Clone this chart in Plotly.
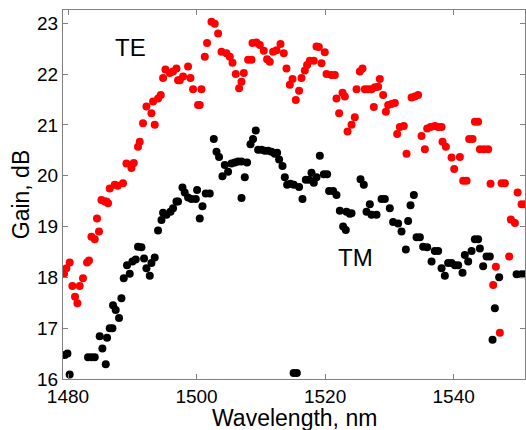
import plotly.graph_objects as go

te_wavelength = [1479.38, 1479.75, 1480.26, 1480.68, 1481.09, 1481.46, 1481.82, 1482.33, 1482.96, 1483.27,
                 1483.64, 1484.16, 1484.51, 1484.82, 1485.20, 1485.71, 1485.98, 1486.23, 1486.49, 1487.27,
                 1487.74, 1488.56, 1489.09, 1489.87, 1490.23, 1490.89, 1491.16, 1491.67, 1492.20, 1492.98,
                 1493.23, 1493.49, 1494.01, 1494.43, 1494.79, 1495.16, 1495.83, 1496.34, 1496.87, 1497.12,
                 1497.39, 1497.90, 1498.68, 1499.05, 1499.46, 1500.23, 1500.50, 1500.76, 1501.28, 1501.63,
                 1502.32, 1502.83, 1503.35, 1503.88, 1504.65, 1505.17, 1505.59, 1506.10, 1506.62, 1506.99,
                 1507.35, 1508.02, 1508.55, 1508.70, 1509.32, 1509.84, 1510.46, 1510.97, 1511.39, 1511.91,
                 1512.44, 1513.06, 1513.57, 1513.99, 1514.51, 1514.93, 1515.44, 1515.95, 1516.33, 1516.84,
                 1517.20, 1517.62, 1518.24, 1518.66, 1519.02, 1519.44, 1519.95, 1520.22, 1520.99, 1521.51,
                 1521.77, 1522.18, 1522.71, 1523.07, 1523.49, 1524.11, 1524.62, 1524.89, 1525.40, 1525.82,
                 1526.18, 1526.69, 1527.22, 1527.58, 1527.74, 1528.25, 1528.51, 1529.03, 1529.45, 1529.81,
                 1530.33, 1530.85, 1531.21, 1531.63, 1532.25, 1532.67, 1533.45, 1533.96, 1534.47, 1535.00,
                 1535.52, 1535.88, 1536.40, 1537.07, 1537.59, 1538.12, 1538.27, 1538.79, 1539.67, 1540.08,
                 1540.97, 1541.48, 1542.01, 1542.41, 1542.94, 1543.30, 1543.81, 1544.08, 1544.70, 1545.37,
                 1545.74, 1546.15, 1546.57, 1547.19, 1547.46, 1547.97, 1548.64, 1548.90, 1549.53, 1549.95,
                 1550.57, 1551.08]
te_gain = [18.07, 18.18, 18.29, 17.83, 17.62, 17.49, 17.83, 17.98, 18.29, 18.33,
           18.80, 18.75, 19.16, 18.90, 19.52, 19.49, 19.49, 19.46, 19.75, 19.82,
           19.80, 19.85, 20.24, 20.15, 20.25, 20.57, 20.67, 21.03, 21.36, 21.23,
           21.46, 21.00, 21.52, 21.59, 21.92, 22.09, 22.02, 22.05, 22.11, 21.88,
           21.88, 21.95, 22.15, 21.92, 21.70, 21.39, 21.39, 21.70, 22.34, 22.61,
           23.03, 22.99, 22.80, 22.44, 22.41, 22.34, 22.22, 22.00, 21.72, 21.85,
           22.02, 22.28, 22.28, 22.61, 22.62, 22.57, 22.46, 22.29, 22.24, 22.44,
           22.47, 22.59, 22.41, 22.11, 21.79, 21.90, 21.49, 21.67, 21.92, 22.07,
           22.18, 22.26, 22.26, 22.54, 22.53, 22.21, 22.43, 22.00, 21.98, 21.98,
           21.52, 21.23, 21.63, 21.56, 20.87, 21.00, 21.15, 21.70, 22.05, 22.11,
           21.70, 21.70, 21.70, 21.35, 21.74, 21.75, 21.90, 21.59, 21.26, 21.39,
           21.41, 21.43, 20.82, 20.96, 20.98, 20.43, 21.54, 21.56, 21.59, 20.78,
           20.52, 20.93, 20.96, 20.98, 20.96, 20.96, 20.67, 20.57, 20.36, 20.13,
           20.37, 19.90, 19.90, 20.72, 20.72, 21.06, 21.06, 20.52, 20.52, 20.52,
           19.84, 17.85, 18.21, 16.91, 19.85, 19.85, 18.41, 19.14, 19.07, 19.67,
           19.44, 19.44]

tm_wavelength = [1479.49, 1479.91, 1480.26, 1483.11, 1483.64, 1484.16, 1484.93, 1485.35, 1485.87, 1486.07,
                 1486.49, 1486.91, 1487.00, 1487.42, 1487.94, 1488.31, 1488.67, 1489.18, 1489.60, 1490.02,
                 1490.54, 1490.89, 1491.42, 1491.83, 1492.20, 1492.72, 1492.98, 1493.49, 1494.01, 1494.54,
                 1494.79, 1495.32, 1495.94, 1496.34, 1496.87, 1497.12, 1497.81, 1498.16, 1498.68, 1499.21,
                 1499.88, 1500.08, 1500.50, 1500.92, 1501.43, 1502.05, 1502.68, 1503.10, 1503.50, 1504.03,
                 1504.39, 1504.90, 1505.43, 1505.95, 1506.46, 1506.99, 1506.99, 1507.50, 1507.86, 1508.39,
                 1508.79, 1509.21, 1509.57, 1510.10, 1510.62, 1511.13, 1511.66, 1512.17, 1512.53, 1512.84,
                 1513.37, 1513.73, 1514.09, 1514.62, 1515.13, 1515.10, 1515.60, 1515.95, 1516.48, 1517.00,
                 1517.51, 1517.88, 1518.24, 1518.66, 1519.18, 1519.80, 1520.31, 1520.62, 1521.25, 1521.77,
                 1522.29, 1522.80, 1523.22, 1523.33, 1523.84, 1524.11, 1525.51, 1526.02, 1526.44, 1526.96,
                 1527.22, 1528.00, 1528.78, 1529.29, 1530.07, 1530.58, 1531.36, 1531.89, 1532.56, 1532.92,
                 1533.29, 1533.81, 1534.23, 1534.74, 1535.25, 1535.88, 1536.56, 1537.07, 1537.59, 1538.12,
                 1538.63, 1539.14, 1539.67, 1540.19, 1540.70, 1541.38, 1541.74, 1542.26, 1542.79, 1543.30,
                 1543.81, 1544.08, 1544.59, 1545.12, 1545.63, 1546.05, 1546.41, 1547.08, 1549.79, 1550.57,
                 1551.08]
tm_gain = [16.47, 16.50, 16.09, 16.43, 16.43, 16.43, 16.84, 16.60, 16.29, 16.81,
           17.00, 17.00, 17.45, 17.36, 17.20, 17.59, 17.98, 18.24, 18.07, 18.31,
           18.35, 18.60, 18.59, 18.37, 18.18, 18.03, 18.28, 18.39, 18.92, 19.13,
           19.27, 19.23, 19.29, 19.36, 19.49, 19.49, 19.77, 19.67, 19.57, 19.54,
           19.54, 19.72, 19.16, 19.40, 19.65, 19.65, 20.72, 20.47, 20.37, 19.99,
           20.21, 20.08, 20.24, 20.26, 20.28, 20.28, 19.56, 19.97, 20.26, 20.62,
           20.72, 20.89, 20.51, 20.51, 20.49, 20.49, 20.47, 20.43, 20.45, 20.32,
           20.19, 19.97, 19.82, 19.84, 19.82, 16.12, 16.12, 19.78, 19.54, 19.92,
           19.92, 20.06, 19.86, 19.97, 20.39, 20.03, 20.03, 19.70, 19.70, 19.62,
           19.31, 19.00, 18.93, 19.29, 19.25, 19.26, 19.93, 19.82, 19.29, 19.44,
           19.23, 19.23, 19.54, 19.54, 19.36, 19.09, 19.06, 18.90, 18.55, 19.11,
           19.42, 19.62, 18.79, 18.79, 18.60, 18.59, 18.31, 18.52, 18.52, 18.18,
           18.03, 18.28, 18.28, 18.24, 18.24, 18.09, 18.44, 18.31, 18.52, 18.75,
           18.75, 18.57, 18.22, 18.41, 18.41, 16.77, 17.39, 18.00, 18.06, 18.06,
           18.06]

x_ticks = [1480, 1500, 1520, 1540]
y_ticks = [16, 17, 18, 19, 20, 21, 22, 23]

FONT = "Liberation Sans, Arial, sans-serif"

fig = go.Figure()
fig.add_trace(go.Scatter(x=te_wavelength, y=te_gain, mode="markers", name="TE",
                         marker=dict(color="#ff0000", size=8, line=dict(width=0)),
                         cliponaxis=True))
fig.add_trace(go.Scatter(x=tm_wavelength, y=tm_gain, mode="markers", name="TM",
                         marker=dict(color="#000000", size=8, line=dict(width=0)),
                         cliponaxis=True))

fig.add_annotation(x=1489.68, y=22.52, text="TE", showarrow=False,
                   font=dict(family=FONT, size=24, color="#000"))
fig.add_annotation(x=1524.7, y=18.39, text="TM", showarrow=False,
                   font=dict(family=FONT, size=24, color="#000"))
# x-axis title, placed as paper text just below the tick labels
fig.add_annotation(x=0.5, y=0, xref="paper", yref="paper", text="Wavelength, nm", showarrow=False,
                   xanchor="center", yanchor="middle", yshift=-39,
                   font=dict(family=FONT, size=23, color="#000"))

axis_common = dict(showgrid=False, zeroline=False, showline=True, linecolor="#808080", linewidth=1,
                   mirror="ticks", ticks="inside", ticklen=5, tickcolor="#808080", automargin=False,
                   tickfont=dict(family=FONT, size=19, color="#000"))

fig.update_xaxes(range=[1479.22, 1551.1], tickvals=x_ticks, ticktext=[str(v) for v in x_ticks],
                 **axis_common)
fig.update_yaxes(range=[16, 23.26], tickvals=y_ticks, ticktext=[str(v) for v in y_ticks],
                 title=dict(text="Gain, dB", font=dict(family=FONT, size=23, color="#000"), standoff=1),
                 **axis_common)

fig.update_layout(width=526, height=430, margin=dict(l=63, r=1, t=10, b=51),
                  plot_bgcolor="white", paper_bgcolor="white", showlegend=False)

# remove the default page margin so the 526x430 figure fills the window exactly
fig.write_html("out.html", config={"displayModeBar": False},
               post_script="document.documentElement.style.margin='0';document.body.style.margin='0';"
                           "document.body.style.overflow='hidden';")
